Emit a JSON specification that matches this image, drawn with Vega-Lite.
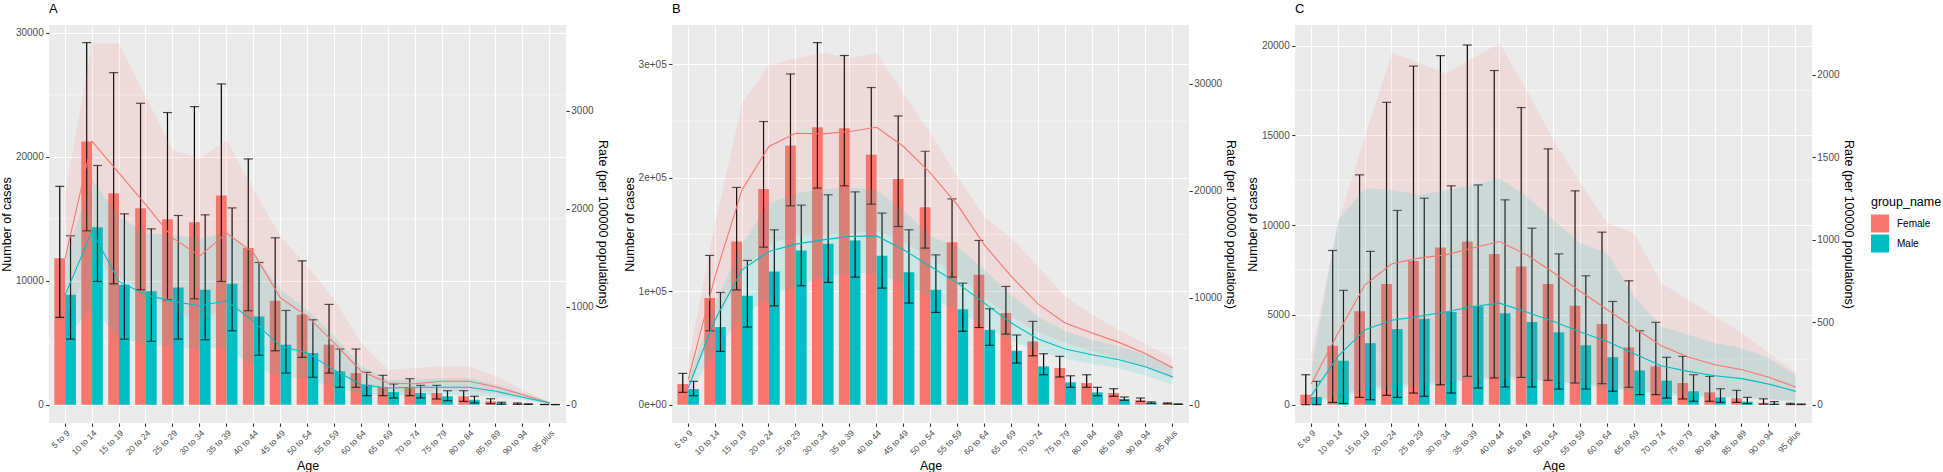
{
  "$schema": "https://vega.github.io/schema/vega-lite/v6.json",
  "padding": {"left": 0, "top": 2, "right": 0, "bottom": 0},
  "autosize": {"type": "pad"},
  "spacing": 106,
  "bounds": "flush",
  "datasets": {
    "A": [
      {"age": "5 to 9", "group": "Female", "cases": 11820, "lo": 7040, "hi": 17600, "rate": 1497, "rlo": 850, "rhi": 2150},
      {"age": "5 to 9", "group": "Male", "cases": 8860, "lo": 5290, "hi": 13620, "rate": 1122, "rlo": 650, "rhi": 1500},
      {"age": "10 to 14", "group": "Female", "cases": 21220, "lo": 14020, "hi": 29200, "rate": 2688, "rlo": 1500, "rhi": 3690},
      {"age": "10 to 14", "group": "Male", "cases": 14320, "lo": 9940, "hi": 19290, "rate": 1772, "rlo": 1000, "rhi": 2296},
      {"age": "15 to 19", "group": "Female", "cases": 17060, "lo": 9750, "hi": 26780, "rate": 2364, "rlo": 1300, "rhi": 3690},
      {"age": "15 to 19", "group": "Male", "cases": 9670, "lo": 5290, "hi": 15390, "rate": 1259, "rlo": 680, "rhi": 1922},
      {"age": "20 to 24", "group": "Female", "cases": 15850, "lo": 9270, "hi": 24310, "rate": 2041, "rlo": 1150, "rhi": 3140},
      {"age": "20 to 24", "group": "Male", "cases": 9140, "lo": 5110, "hi": 14180, "rate": 1122, "rlo": 620, "rhi": 1752},
      {"age": "25 to 29", "group": "Female", "cases": 14960, "lo": 8460, "hi": 23560, "rate": 1701, "rlo": 950, "rhi": 2600},
      {"age": "25 to 29", "group": "Male", "cases": 9460, "lo": 5290, "hi": 15260, "rate": 1055, "rlo": 596, "rhi": 1735},
      {"age": "30 to 34", "group": "Female", "cases": 14720, "lo": 8540, "hi": 24040, "rate": 1520, "rlo": 850, "rhi": 2517},
      {"age": "30 to 34", "group": "Male", "cases": 9270, "lo": 5240, "hi": 15310, "rate": 1010, "rlo": 560, "rhi": 1701},
      {"age": "35 to 39", "group": "Female", "cases": 16870, "lo": 9940, "hi": 25870, "rate": 1752, "rlo": 1000, "rhi": 2700},
      {"age": "35 to 39", "group": "Male", "cases": 9750, "lo": 5960, "hi": 15870, "rate": 1061, "rlo": 590, "rhi": 1752},
      {"age": "40 to 44", "group": "Female", "cases": 12630, "lo": 7580, "hi": 19820, "rate": 1548, "rlo": 880, "rhi": 2194},
      {"age": "40 to 44", "group": "Male", "cases": 7120, "lo": 3980, "hi": 11470, "rate": 851, "rlo": 392, "rhi": 1548},
      {"age": "45 to 49", "group": "Female", "cases": 8380, "lo": 4350, "hi": 13460, "rate": 1089, "rlo": 620, "rhi": 1718},
      {"age": "45 to 49", "group": "Male", "cases": 4840, "lo": 2550, "hi": 7600, "rate": 596, "rlo": 290, "rhi": 1173},
      {"age": "50 to 54", "group": "Female", "cases": 7250, "lo": 3820, "hi": 11600, "rate": 902, "rlo": 520, "rhi": 1412},
      {"age": "50 to 54", "group": "Male", "cases": 4170, "lo": 2210, "hi": 6850, "rate": 528, "rlo": 260, "rhi": 969},
      {"age": "55 to 59", "group": "Female", "cases": 4840, "lo": 2550, "hi": 8090, "rate": 630, "rlo": 360, "rhi": 1071},
      {"age": "55 to 59", "group": "Male", "cases": 2690, "lo": 1400, "hi": 4490, "rate": 351, "rlo": 180, "rhi": 700},
      {"age": "60 to 64", "group": "Female", "cases": 2550, "lo": 1400, "hi": 4490, "rate": 341, "rlo": 190, "rhi": 630},
      {"age": "60 to 64", "group": "Male", "cases": 1610, "lo": 730, "hi": 2610, "rate": 204, "rlo": 110, "rhi": 392},
      {"age": "65 to 69", "group": "Female", "cases": 1430, "lo": 730, "hi": 2370, "rate": 221, "rlo": 130, "rhi": 357},
      {"age": "65 to 69", "group": "Male", "cases": 1020, "lo": 540, "hi": 1670, "rate": 170, "rlo": 95, "rhi": 255},
      {"age": "70 to 74", "group": "Female", "cases": 1350, "lo": 730, "hi": 2100, "rate": 214, "rlo": 125, "rhi": 374},
      {"age": "70 to 74", "group": "Male", "cases": 940, "lo": 540, "hi": 1560, "rate": 178, "rlo": 100, "rhi": 255},
      {"age": "75 to 79", "group": "Female", "cases": 940, "lo": 460, "hi": 1560, "rate": 239, "rlo": 140, "rhi": 392},
      {"age": "75 to 79", "group": "Male", "cases": 680, "lo": 320, "hi": 1130, "rate": 178, "rlo": 100, "rhi": 272},
      {"age": "80 to 84", "group": "Female", "cases": 680, "lo": 270, "hi": 1130, "rate": 239, "rlo": 140, "rhi": 392},
      {"age": "80 to 84", "group": "Male", "cases": 400, "lo": 140, "hi": 680, "rate": 178, "rlo": 100, "rhi": 272},
      {"age": "85 to 89", "group": "Female", "cases": 270, "lo": 80, "hi": 480, "rate": 181, "rlo": 110, "rhi": 290},
      {"age": "85 to 89", "group": "Male", "cases": 120, "lo": 40, "hi": 200, "rate": 137, "rlo": 80, "rhi": 204},
      {"age": "90 to 94", "group": "Female", "cases": 80, "lo": 30, "hi": 140, "rate": 102, "rlo": 60, "rhi": 153},
      {"age": "90 to 94", "group": "Male", "cases": 40, "lo": 15, "hi": 70, "rate": 76, "rlo": 45, "rhi": 119},
      {"age": "95 plus", "group": "Female", "cases": 15, "lo": 5, "hi": 25, "rate": 17, "rlo": 10, "rhi": 25},
      {"age": "95 plus", "group": "Male", "cases": 8, "lo": 3, "hi": 15, "rate": 17, "rlo": 10, "rhi": 28}
    ],
    "B": [
      {"age": "5 to 9", "group": "Female", "cases": 18200, "lo": 10900, "hi": 27600, "rate": 2340, "rlo": 1500, "rhi": 4000},
      {"age": "5 to 9", "group": "Male", "cases": 13800, "lo": 7900, "hi": 20600, "rate": 1560, "rlo": 900, "rhi": 2200},
      {"age": "10 to 14", "group": "Female", "cases": 93900, "lo": 65100, "hi": 131500, "rate": 12000, "rlo": 7500, "rhi": 17000},
      {"age": "10 to 14", "group": "Male", "cases": 68400, "lo": 47000, "hi": 98900, "rate": 7940, "rlo": 5000, "rhi": 9500},
      {"age": "15 to 19", "group": "Female", "cases": 143800, "lo": 101200, "hi": 191400, "rate": 20090, "rlo": 12500, "rhi": 28200},
      {"age": "15 to 19", "group": "Male", "cases": 96000, "lo": 68400, "hi": 127100, "rate": 12620, "rlo": 8260, "rhi": 15000},
      {"age": "20 to 24", "group": "Female", "cases": 190100, "lo": 138800, "hi": 249500, "rate": 24150, "rlo": 15000, "rhi": 31780},
      {"age": "20 to 24", "group": "Male", "cases": 117400, "lo": 87100, "hi": 154100, "rate": 14340, "rlo": 10000, "rhi": 18850},
      {"age": "25 to 29", "group": "Female", "cases": 228300, "lo": 175200, "hi": 291400, "rate": 25390, "rlo": 15800, "rhi": 32400},
      {"age": "25 to 29", "group": "Male", "cases": 135900, "lo": 104800, "hi": 175800, "rate": 15020, "rlo": 11000, "rhi": 19790},
      {"age": "30 to 34", "group": "Female", "cases": 244500, "lo": 190800, "hi": 319000, "rate": 25330, "rlo": 15800, "rhi": 32930},
      {"age": "30 to 34", "group": "Male", "cases": 141700, "lo": 107700, "hi": 184900, "rate": 15420, "rlo": 12000, "rhi": 20160},
      {"age": "35 to 39", "group": "Female", "cases": 243600, "lo": 192800, "hi": 307600, "rate": 25550, "rlo": 16000, "rhi": 32400},
      {"age": "35 to 39", "group": "Male", "cases": 144700, "lo": 112400, "hi": 187500, "rate": 15740, "rlo": 12300, "rhi": 20350},
      {"age": "40 to 44", "group": "Female", "cases": 220100, "lo": 176700, "hi": 279400, "rate": 25950, "rlo": 16300, "rhi": 32870},
      {"age": "40 to 44", "group": "Male", "cases": 131200, "lo": 102700, "hi": 168800, "rate": 15790, "rlo": 12300, "rhi": 20090},
      {"age": "45 to 49", "group": "Female", "cases": 198900, "lo": 157000, "hi": 254400, "rate": 24150, "rlo": 15200, "rhi": 29130},
      {"age": "45 to 49", "group": "Male", "cases": 116800, "lo": 89500, "hi": 154100, "rate": 14490, "rlo": 11300, "rhi": 18220},
      {"age": "50 to 54", "group": "Female", "cases": 174000, "lo": 137900, "hi": 223300, "rate": 21650, "rlo": 13800, "rhi": 25390},
      {"age": "50 to 54", "group": "Male", "cases": 101200, "lo": 81300, "hi": 132000, "rate": 12930, "rlo": 10000, "rhi": 15740},
      {"age": "55 to 59", "group": "Female", "cases": 143200, "lo": 112400, "hi": 181300, "rate": 18690, "rlo": 12000, "rhi": 21350},
      {"age": "55 to 59", "group": "Male", "cases": 84200, "lo": 64600, "hi": 107100, "rate": 11370, "rlo": 8800, "rhi": 14800},
      {"age": "60 to 64", "group": "Female", "cases": 114400, "lo": 68000, "hi": 144700, "rate": 14950, "rlo": 10000, "rhi": 17610},
      {"age": "60 to 64", "group": "Male", "cases": 66000, "lo": 52300, "hi": 84500, "rate": 9500, "rlo": 7300, "rhi": 12620},
      {"age": "65 to 69", "group": "Female", "cases": 80700, "lo": 62200, "hi": 104200, "rate": 12000, "rlo": 8200, "rhi": 15580},
      {"age": "65 to 69", "group": "Male", "cases": 47500, "lo": 36700, "hi": 61400, "rate": 7640, "rlo": 6000, "rhi": 10280},
      {"age": "70 to 74", "group": "Female", "cases": 55800, "lo": 43100, "hi": 73400, "rate": 9410, "rlo": 6800, "rhi": 12930},
      {"age": "70 to 74", "group": "Male", "cases": 33800, "lo": 26400, "hi": 44900, "rate": 6140, "rlo": 5000, "rhi": 8260},
      {"age": "75 to 79", "group": "Female", "cases": 32300, "lo": 24400, "hi": 42600, "rate": 7640, "rlo": 5800, "rhi": 10130},
      {"age": "75 to 79", "group": "Male", "cases": 19700, "lo": 15300, "hi": 25500, "rate": 5210, "rlo": 4300, "rhi": 6860},
      {"age": "80 to 84", "group": "Female", "cases": 19100, "lo": 15300, "hi": 26400, "rate": 6700, "rlo": 5000, "rhi": 8410},
      {"age": "80 to 84", "group": "Male", "cases": 10900, "lo": 7900, "hi": 15300, "rate": 4670, "rlo": 3800, "rhi": 6070},
      {"age": "85 to 89", "group": "Female", "cases": 10300, "lo": 7400, "hi": 14100, "rate": 5830, "rlo": 4300, "rhi": 7010},
      {"age": "85 to 89", "group": "Male", "cases": 5000, "lo": 3900, "hi": 6800, "rate": 4210, "rlo": 3400, "rhi": 5460},
      {"age": "90 to 94", "group": "Female", "cases": 3900, "lo": 2900, "hi": 5900, "rate": 4770, "rlo": 3500, "rhi": 5610},
      {"age": "90 to 94", "group": "Male", "cases": 1800, "lo": 1200, "hi": 2500, "rate": 3520, "rlo": 2700, "rhi": 4670},
      {"age": "95 plus", "group": "Female", "cases": 1200, "lo": 800, "hi": 1600, "rate": 3430, "rlo": 2400, "rhi": 4360},
      {"age": "95 plus", "group": "Male", "cases": 500, "lo": 300, "hi": 700, "rate": 2590, "rlo": 1870, "rhi": 3590}
    ],
    "C": [
      {"age": "5 to 9", "group": "Female", "cases": 560, "lo": 0, "hi": 1670, "rate": 125, "rlo": 20, "rhi": 300},
      {"age": "5 to 9", "group": "Male", "cases": 430, "lo": 0, "hi": 1300, "rate": 55, "rlo": 10, "rhi": 200},
      {"age": "10 to 14", "group": "Female", "cases": 3280, "lo": 130, "hi": 8590, "rate": 435, "rlo": 60, "rhi": 1100},
      {"age": "10 to 14", "group": "Male", "cases": 2450, "lo": 70, "hi": 6370, "rate": 293, "rlo": 50, "rhi": 1121},
      {"age": "15 to 19", "group": "Female", "cases": 5200, "lo": 410, "hi": 12800, "rate": 727, "rlo": 100, "rhi": 1627},
      {"age": "15 to 19", "group": "Male", "cases": 3430, "lo": 280, "hi": 8540, "rate": 455, "rlo": 80, "rhi": 1313},
      {"age": "20 to 24", "group": "Female", "cases": 6720, "lo": 520, "hi": 16840, "rate": 855, "rlo": 120, "rhi": 2136},
      {"age": "20 to 24", "group": "Male", "cases": 4210, "lo": 410, "hi": 10820, "rate": 512, "rlo": 100, "rhi": 1303},
      {"age": "25 to 29", "group": "Female", "cases": 8010, "lo": 650, "hi": 18860, "rate": 889, "rlo": 130, "rhi": 2071},
      {"age": "25 to 29", "group": "Male", "cases": 4790, "lo": 470, "hi": 11500, "rate": 536, "rlo": 110, "rhi": 1273},
      {"age": "30 to 34", "group": "Female", "cases": 8760, "lo": 1110, "hi": 19440, "rate": 909, "rlo": 140, "rhi": 2010},
      {"age": "30 to 34", "group": "Male", "cases": 5160, "lo": 650, "hi": 12190, "rate": 562, "rlo": 130, "rhi": 1303},
      {"age": "35 to 39", "group": "Female", "cases": 9090, "lo": 1580, "hi": 20030, "rate": 950, "rlo": 150, "rhi": 2101},
      {"age": "35 to 39", "group": "Male", "cases": 5480, "lo": 930, "hi": 12240, "rate": 596, "rlo": 160, "rhi": 1333},
      {"age": "40 to 44", "group": "Female", "cases": 8390, "lo": 1490, "hi": 18610, "rate": 990, "rlo": 155, "rhi": 2192},
      {"age": "40 to 44", "group": "Male", "cases": 5100, "lo": 990, "hi": 11410, "rate": 616, "rlo": 170, "rhi": 1374},
      {"age": "45 to 49", "group": "Female", "cases": 7700, "lo": 1520, "hi": 16550, "rate": 909, "rlo": 150, "rhi": 1909},
      {"age": "45 to 49", "group": "Male", "cases": 4600, "lo": 990, "hi": 9830, "rate": 562, "rlo": 160, "rhi": 1263},
      {"age": "50 to 54", "group": "Female", "cases": 6720, "lo": 1360, "hi": 14250, "rate": 802, "rlo": 140, "rhi": 1606},
      {"age": "50 to 54", "group": "Male", "cases": 4030, "lo": 870, "hi": 8400, "rate": 505, "rlo": 140, "rhi": 1121},
      {"age": "55 to 59", "group": "Female", "cases": 5510, "lo": 1210, "hi": 11910, "rate": 687, "rlo": 130, "rhi": 1344},
      {"age": "55 to 59", "group": "Male", "cases": 3310, "lo": 870, "hi": 7180, "rate": 441, "rlo": 120, "rhi": 980},
      {"age": "60 to 64", "group": "Female", "cases": 4490, "lo": 1170, "hi": 9610, "rate": 576, "rlo": 110, "rhi": 1101},
      {"age": "60 to 64", "group": "Male", "cases": 2650, "lo": 750, "hi": 5750, "rate": 384, "rlo": 100, "rhi": 919},
      {"age": "65 to 69", "group": "Female", "cases": 3190, "lo": 970, "hi": 6900, "rate": 465, "rlo": 90, "rhi": 1040},
      {"age": "65 to 69", "group": "Male", "cases": 1910, "lo": 560, "hi": 4120, "rate": 309, "rlo": 80, "rhi": 657},
      {"age": "70 to 74", "group": "Female", "cases": 2140, "lo": 560, "hi": 4590, "rate": 358, "rlo": 70, "rhi": 736},
      {"age": "70 to 74", "group": "Male", "cases": 1340, "lo": 370, "hi": 2640, "rate": 236, "rlo": 60, "rhi": 475},
      {"age": "75 to 79", "group": "Female", "cases": 1210, "lo": 320, "hi": 2690, "rate": 289, "rlo": 60, "rhi": 636},
      {"age": "75 to 79", "group": "Male", "cases": 750, "lo": 190, "hi": 1670, "rate": 202, "rlo": 50, "rhi": 424},
      {"age": "80 to 84", "group": "Female", "cases": 690, "lo": 190, "hi": 1580, "rate": 242, "rlo": 50, "rhi": 536},
      {"age": "80 to 84", "group": "Male", "cases": 410, "lo": 130, "hi": 890, "rate": 176, "rlo": 45, "rhi": 374},
      {"age": "85 to 89", "group": "Female", "cases": 360, "lo": 130, "hi": 800, "rate": 212, "rlo": 45, "rhi": 435},
      {"age": "85 to 89", "group": "Male", "cases": 170, "lo": 60, "hi": 410, "rate": 158, "rlo": 40, "rhi": 344},
      {"age": "90 to 94", "group": "Female", "cases": 110, "lo": 30, "hi": 330, "rate": 166, "rlo": 35, "rhi": 313},
      {"age": "90 to 94", "group": "Male", "cases": 60, "lo": 15, "hi": 170, "rate": 125, "rlo": 30, "rhi": 283},
      {"age": "95 plus", "group": "Female", "cases": 30, "lo": 5, "hi": 80, "rate": 107, "rlo": 25, "rhi": 192},
      {"age": "95 plus", "group": "Male", "cases": 15, "lo": 3, "hi": 40, "rate": 81, "rlo": 20, "rhi": 175}
    ]
  },
  "hconcat": [
    {
      "data": {"name": "A"},
      "title": {"text": "A"},
      "width": 517, "height": 398,
      "layer": [
        {"layer": [
          {"data": {"values": [{}]}, "mark": {"type": "rule", "color": "#FFFFFF", "strokeWidth": 0.55}, "encoding": {"y": {"datum": 5000, "type": "quantitative", "title": "Number of cases"}}},
          {"data": {"values": [{}]}, "mark": {"type": "rule", "color": "#FFFFFF", "strokeWidth": 0.55}, "encoding": {"y": {"datum": 15000, "type": "quantitative", "title": "Number of cases"}}},
          {"data": {"values": [{}]}, "mark": {"type": "rule", "color": "#FFFFFF", "strokeWidth": 0.55}, "encoding": {"y": {"datum": 25000, "type": "quantitative", "title": "Number of cases"}}},
          {"mark": {"type": "bar"}, "encoding": {
            "x": {"field": "age", "type": "nominal", "sort": null, "title": "Age", "scale": {"paddingInner": 0, "paddingOuter": 0.1}, "axis": {"grid": true, "bandPosition": 0.5, "labelAngle": -45, "labelAlign": "right", "labelBaseline": "top"}},
            "xOffset": {"field": "group", "type": "nominal", "scale": {"paddingInner": 0, "paddingOuter": 0.25}},
            "y": {"field": "cases", "type": "quantitative", "title": "Number of cases", "scale": {"domain": [-1475, 30620], "nice": false, "zero": false}, "axis": {"values": [0, 10000, 20000, 30000], "format": "d", "grid": true}},
            "y2": {"datum": 0},
            "fill": {"field": "group", "type": "nominal", "title": "group_name", "scale": {"domain": ["Female", "Male"], "range": ["#F8766D", "#00BFC4"]}, "legend": {"orient": "none", "legendX": 1822, "legendY": 171}}
          }},
          {"mark": {"type": "rule", "color": "#000000", "strokeWidth": 1.2}, "encoding": {
            "x": {"field": "age", "type": "nominal", "sort": null, "title": "Age"},
            "xOffset": {"field": "group", "type": "nominal"},
            "y": {"field": "lo", "type": "quantitative", "title": "Number of cases"},
            "y2": {"field": "hi"}
          }},
          {"mark": {"type": "tick", "color": "#000000", "thickness": 1.2, "size": 9, "orient": "horizontal"}, "encoding": {
            "x": {"field": "age", "type": "nominal", "sort": null, "title": "Age"},
            "xOffset": {"field": "group", "type": "nominal"},
            "y": {"field": "hi", "type": "quantitative", "title": "Number of cases"}
          }},
          {"mark": {"type": "tick", "color": "#000000", "thickness": 1.2, "size": 9, "orient": "horizontal"}, "encoding": {
            "x": {"field": "age", "type": "nominal", "sort": null, "title": "Age"},
            "xOffset": {"field": "group", "type": "nominal"},
            "y": {"field": "lo", "type": "quantitative", "title": "Number of cases"}
          }}
        ]},
        {"layer": [
          {"mark": {"type": "area", "opacity": 0.13}, "encoding": {
            "x": {"field": "age", "type": "nominal", "sort": null, "title": "Age"},
            "y": {"field": "rlo", "type": "quantitative", "stack": null, "title": "Rate (per 100000 populations)", "scale": {"domain": [-186.7, 3877.6], "nice": false, "zero": false}, "axis": {"orient": "right", "values": [0, 1000, 2000, 3000], "format": "d", "grid": false}},
            "y2": {"field": "rhi"},
            "fill": {"field": "group", "type": "nominal", "title": "group_name", "scale": {"domain": ["Female", "Male"], "range": ["#F8766D", "#00BFC4"]}, "legend": {"orient": "none", "legendX": 1822, "legendY": 171}}
          }},
          {"mark": {"type": "line", "strokeWidth": 1.1}, "encoding": {
            "x": {"field": "age", "type": "nominal", "sort": null, "title": "Age"},
            "y": {"field": "rate", "type": "quantitative", "title": "Rate (per 100000 populations)"},
            "stroke": {"field": "group", "type": "nominal", "scale": {"domain": ["Female", "Male"], "range": ["#F8766D", "#00BFC4"]}, "legend": null}
          }}
        ]}
      ],
      "resolve": {"scale": {"y": "independent"}}
    },
    {
      "data": {"name": "B"},
      "title": {"text": "B"},
      "width": 517, "height": 398,
      "layer": [
        {"layer": [
          {"data": {"values": [{}]}, "mark": {"type": "rule", "color": "#FFFFFF", "strokeWidth": 0.55}, "encoding": {"y": {"datum": 50000, "type": "quantitative", "title": "Number of cases"}}},
          {"data": {"values": [{}]}, "mark": {"type": "rule", "color": "#FFFFFF", "strokeWidth": 0.55}, "encoding": {"y": {"datum": 150000, "type": "quantitative", "title": "Number of cases"}}},
          {"data": {"values": [{}]}, "mark": {"type": "rule", "color": "#FFFFFF", "strokeWidth": 0.55}, "encoding": {"y": {"datum": 250000, "type": "quantitative", "title": "Number of cases"}}},
          {"mark": {"type": "bar"}, "encoding": {
            "x": {"field": "age", "type": "nominal", "sort": null, "title": "Age", "scale": {"paddingInner": 0, "paddingOuter": 0.1}, "axis": {"grid": true, "bandPosition": 0.5, "labelAngle": -45, "labelAlign": "right", "labelBaseline": "top"}},
            "xOffset": {"field": "group", "type": "nominal", "scale": {"paddingInner": 0, "paddingOuter": 0.25}},
            "y": {"field": "cases", "type": "quantitative", "title": "Number of cases", "scale": {"domain": [-16109, 334507], "nice": false, "zero": false}, "axis": {"values": [0, 100000, 200000, 300000], "labelExpr": "replace(format(datum.value, '.0e'), 'e+', 'e+0')", "grid": true}},
            "y2": {"datum": 0},
            "fill": {"field": "group", "type": "nominal", "title": "group_name", "scale": {"domain": ["Female", "Male"], "range": ["#F8766D", "#00BFC4"]}, "legend": {"orient": "none", "legendX": 1822, "legendY": 171}}
          }},
          {"mark": {"type": "rule", "color": "#000000", "strokeWidth": 1.2}, "encoding": {
            "x": {"field": "age", "type": "nominal", "sort": null, "title": "Age"},
            "xOffset": {"field": "group", "type": "nominal"},
            "y": {"field": "lo", "type": "quantitative", "title": "Number of cases"},
            "y2": {"field": "hi"}
          }},
          {"mark": {"type": "tick", "color": "#000000", "thickness": 1.2, "size": 9, "orient": "horizontal"}, "encoding": {
            "x": {"field": "age", "type": "nominal", "sort": null, "title": "Age"},
            "xOffset": {"field": "group", "type": "nominal"},
            "y": {"field": "hi", "type": "quantitative", "title": "Number of cases"}
          }},
          {"mark": {"type": "tick", "color": "#000000", "thickness": 1.2, "size": 9, "orient": "horizontal"}, "encoding": {
            "x": {"field": "age", "type": "nominal", "sort": null, "title": "Age"},
            "xOffset": {"field": "group", "type": "nominal"},
            "y": {"field": "lo", "type": "quantitative", "title": "Number of cases"}
          }}
        ]},
        {"layer": [
          {"mark": {"type": "area", "opacity": 0.13}, "encoding": {
            "x": {"field": "age", "type": "nominal", "sort": null, "title": "Age"},
            "y": {"field": "rlo", "type": "quantitative", "stack": null, "title": "Rate (per 100000 populations)", "scale": {"domain": [-1710, 35514], "nice": false, "zero": false}, "axis": {"orient": "right", "values": [0, 10000, 20000, 30000], "format": "d", "grid": false}},
            "y2": {"field": "rhi"},
            "fill": {"field": "group", "type": "nominal", "title": "group_name", "scale": {"domain": ["Female", "Male"], "range": ["#F8766D", "#00BFC4"]}, "legend": {"orient": "none", "legendX": 1822, "legendY": 171}}
          }},
          {"mark": {"type": "line", "strokeWidth": 1.1}, "encoding": {
            "x": {"field": "age", "type": "nominal", "sort": null, "title": "Age"},
            "y": {"field": "rate", "type": "quantitative", "title": "Rate (per 100000 populations)"},
            "stroke": {"field": "group", "type": "nominal", "scale": {"domain": ["Female", "Male"], "range": ["#F8766D", "#00BFC4"]}, "legend": null}
          }}
        ]}
      ],
      "resolve": {"scale": {"y": "independent"}}
    },
    {
      "data": {"name": "C"},
      "title": {"text": "C"},
      "width": 517, "height": 398,
      "layer": [
        {"layer": [
          {"data": {"values": [{}]}, "mark": {"type": "rule", "color": "#FFFFFF", "strokeWidth": 0.55}, "encoding": {"y": {"datum": 2500, "type": "quantitative", "title": "Number of cases"}}},
          {"data": {"values": [{}]}, "mark": {"type": "rule", "color": "#FFFFFF", "strokeWidth": 0.55}, "encoding": {"y": {"datum": 7500, "type": "quantitative", "title": "Number of cases"}}},
          {"data": {"values": [{}]}, "mark": {"type": "rule", "color": "#FFFFFF", "strokeWidth": 0.55}, "encoding": {"y": {"datum": 12500, "type": "quantitative", "title": "Number of cases"}}},
          {"data": {"values": [{}]}, "mark": {"type": "rule", "color": "#FFFFFF", "strokeWidth": 0.55}, "encoding": {"y": {"datum": 17500, "type": "quantitative", "title": "Number of cases"}}},
          {"mark": {"type": "bar"}, "encoding": {
            "x": {"field": "age", "type": "nominal", "sort": null, "title": "Age", "scale": {"paddingInner": 0, "paddingOuter": 0.1}, "axis": {"grid": true, "bandPosition": 0.5, "labelAngle": -45, "labelAlign": "right", "labelBaseline": "top"}},
            "xOffset": {"field": "group", "type": "nominal", "scale": {"paddingInner": 0, "paddingOuter": 0.25}},
            "y": {"field": "cases", "type": "quantitative", "title": "Number of cases", "scale": {"domain": [-1018, 21147], "nice": false, "zero": false}, "axis": {"values": [0, 5000, 10000, 15000, 20000], "format": "d", "grid": true}},
            "y2": {"datum": 0},
            "fill": {"field": "group", "type": "nominal", "title": "group_name", "scale": {"domain": ["Female", "Male"], "range": ["#F8766D", "#00BFC4"]}, "legend": {"orient": "none", "legendX": 1822, "legendY": 171}}
          }},
          {"mark": {"type": "rule", "color": "#000000", "strokeWidth": 1.2}, "encoding": {
            "x": {"field": "age", "type": "nominal", "sort": null, "title": "Age"},
            "xOffset": {"field": "group", "type": "nominal"},
            "y": {"field": "lo", "type": "quantitative", "title": "Number of cases"},
            "y2": {"field": "hi"}
          }},
          {"mark": {"type": "tick", "color": "#000000", "thickness": 1.2, "size": 9, "orient": "horizontal"}, "encoding": {
            "x": {"field": "age", "type": "nominal", "sort": null, "title": "Age"},
            "xOffset": {"field": "group", "type": "nominal"},
            "y": {"field": "hi", "type": "quantitative", "title": "Number of cases"}
          }},
          {"mark": {"type": "tick", "color": "#000000", "thickness": 1.2, "size": 9, "orient": "horizontal"}, "encoding": {
            "x": {"field": "age", "type": "nominal", "sort": null, "title": "Age"},
            "xOffset": {"field": "group", "type": "nominal"},
            "y": {"field": "lo", "type": "quantitative", "title": "Number of cases"}
          }}
        ]},
        {"layer": [
          {"mark": {"type": "area", "opacity": 0.13}, "encoding": {
            "x": {"field": "age", "type": "nominal", "sort": null, "title": "Age"},
            "y": {"field": "rlo", "type": "quantitative", "stack": null, "title": "Rate (per 100000 populations)", "scale": {"domain": [-110.9, 2303], "nice": false, "zero": false}, "axis": {"orient": "right", "values": [0, 500, 1000, 1500, 2000], "format": "d", "grid": false}},
            "y2": {"field": "rhi"},
            "fill": {"field": "group", "type": "nominal", "title": "group_name", "scale": {"domain": ["Female", "Male"], "range": ["#F8766D", "#00BFC4"]}, "legend": {"orient": "none", "legendX": 1822, "legendY": 171}}
          }},
          {"mark": {"type": "line", "strokeWidth": 1.1}, "encoding": {
            "x": {"field": "age", "type": "nominal", "sort": null, "title": "Age"},
            "y": {"field": "rate", "type": "quantitative", "title": "Rate (per 100000 populations)"},
            "stroke": {"field": "group", "type": "nominal", "scale": {"domain": ["Female", "Male"], "range": ["#F8766D", "#00BFC4"]}, "legend": null}
          }}
        ]}
      ],
      "resolve": {"scale": {"y": "independent"}}
    }
  ],
  "config": {
    "font": "Liberation Sans",
    "view": {"fill": "#EBEBEB", "stroke": null},
    "axis": {"domain": false, "tickColor": "#333333", "tickSize": 3.3, "tickWidth": 1.1, "labelColor": "#4D4D4D", "labelFontSize": 10, "labelPadding": 2, "titleFontSize": 12.5, "titleFontWeight": "normal", "titleColor": "#000000", "gridColor": "#FFFFFF", "gridWidth": 1.1, "titlePadding": 2},
    "axisX": {"labelFontSize": 8.5, "labelPadding": 2, "titlePadding": 3},
    "axisLeft": {"labelPadding": 2.5, "titlePadding": 2},
    "axisRight": {"labelPadding": 1.5, "titlePadding": 2},
    "title": {"fontSize": 13, "fontWeight": "normal", "anchor": "start", "frame": "group", "baseline": "alphabetic", "offset": 9.4, "color": "#000000"},
    "legend": {"titleFontSize": 12.5, "titleFontWeight": "normal", "titleColor": "#000000", "labelFontSize": 10, "labelColor": "#000000", "symbolType": "square", "symbolSize": 324, "symbolOpacity": 1, "symbolStrokeWidth": 0, "rowPadding": 2, "labelOffset": 8, "titlePadding": 6}
  }
}
